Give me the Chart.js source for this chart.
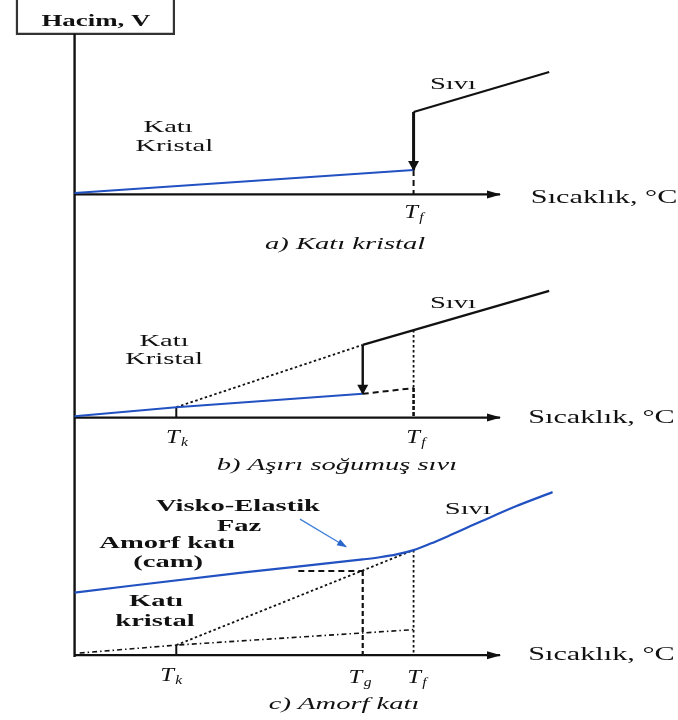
<!DOCTYPE html>
<html>
<head>
<meta charset="utf-8">
<script src="https://cdn.jsdelivr.net/npm/chart.js@4/dist/chart.umd.min.js"></script>
<style>
  html, body { margin: 0; padding: 0; background: #fff; }
  canvas { display: block; }
</style>
</head>
<body>
<canvas id="c" width="678" height="720"></canvas>
<script>
// Characteristic temperatures on the shared temperature axis
const T_K = 30, T_G = 85, T_F = 100, T_END = 140, AXIS_END = 125.5;
// Volume baseline of each stacked panel (a, b, c)
const panelBase = [128, 66, 0];

// (a) Katı kristal
const aSolidT = [0, T_F],         aSolidV = [0.4, 6.8];
const aLiquidT = [T_F, T_END],    aLiquidV = [22.9, 34.0];
const aDropV = [22.9, 6.8];

// (b) Aşırı soğumuş sıvı
const bSolidT = [0, T_K, T_G],    bSolidV = [0.4, 2.9, 6.6];
const bSuperT = [T_K, T_G],       bSuperV = [2.9, 20.2];
const bLiquidT = [T_G, T_END],    bLiquidV = [20.2, 35.2];
const bDropV = [20.2, 6.6];
const bCrystT = [T_G, T_F],       bCrystV = [6.6, 8.2];
const bTfUpperV = [24.3, 8.2];

// (c) Amorf katı
const cGlassT = [0, 50, 85, 90, 95, 100, 105, 110, 120, 130, 141];
const cGlassV = [17.4, 23.0, 26.6, 27.2, 28.0, 29.2, 31.0, 33.0, 37.2, 41.3, 45.3];
const cExtrapT = [T_K, T_F],      cExtrapV = [2.8, 29.2];
const cTgLevelT = [66, T_G],      cTgV = 23.4;
const cCrystT = [1.5, T_K, T_F],  cCrystV = [0.6, 2.8, 7.1];
const cTfV = 29.2;
const cPointerT = [66.5, 80.1],   cPointerV = [37.8, 30.1];

// Frame of the volume label and the volume axis
const boxT = [-17, -17, 29.3, 29.3], boxV = [182, 172.6, 172.6, 182];
const vAxisTop = 172.6;

const BLACK = '#111';
const BLUE = '#2251c2';
const SOLID = { borderColor: BLACK, borderWidth: 2.2 };
const DOTTED = { borderColor: BLACK, borderWidth: 1.8, borderDash: [2.5, 2.5] };
const DASHED = { borderColor: BLACK, borderWidth: 2, borderDash: [6, 4] };
const DASHDOT = { borderColor: BLACK, borderWidth: 1.6, borderDash: [5, 3, 1.5, 3] };

function pts(Ts, Vs, panel) {
  const base = panel == null ? 0 : panelBase[panel];
  return Ts.map((t, i) => ({ x: t, y: Vs[i] + base }));
}
function seg(data, style, extra) {
  return Object.assign({
    data, showLine: true, pointRadius: 0, fill: false, clip: false, tension: 0
  }, style, extra || {});
}
const AXIS_HEAD = { length: 13, width: 8, color: BLACK };
const DROP_HEAD = { length: 9, width: 11, color: BLACK };

const datasets = [];
// (c) glass / liquid curve first so it stays on top
datasets.push(seg(pts(cGlassT, cGlassV, 2), { borderColor: BLUE, borderWidth: 2.2 }, { cubicInterpolationMode: 'monotone' }));
datasets.push(seg(pts(cPointerT, cPointerV, 2), { borderColor: '#3d7fd9', borderWidth: 1.2 },
  { arrowHead: { length: 9, width: 7, color: '#2a66cc' } }));
datasets.push(seg(pts(aSolidT, aSolidV, 0), { borderColor: BLUE, borderWidth: 2 }));
datasets.push(seg(pts(bSolidT, bSolidV, 1), { borderColor: BLUE, borderWidth: 2 }));

// Axes
datasets.push(seg(pts([0, 0], [-0.5, vAxisTop]), { borderColor: BLACK, borderWidth: 2.4 }));
datasets.push(seg(pts(boxT, boxV), { borderColor: '#333', borderWidth: 2.2 }));
[0, 1, 2].forEach(p => {
  datasets.push(seg(pts([0, AXIS_END], [0, 0], p), SOLID, { arrowHead: AXIS_HEAD }));
});

// (a)
datasets.push(seg(pts(aLiquidT, aLiquidV, 0), SOLID));
datasets.push(seg(pts([T_F, T_F], aDropV, 0), { borderColor: BLACK, borderWidth: 3 }, { arrowHead: DROP_HEAD }));
datasets.push(seg(pts([T_F, T_F], [aSolidV[1], 0], 0), DASHED));

// (b)
datasets.push(seg(pts(bSuperT, bSuperV, 1), DOTTED));
datasets.push(seg(pts(bLiquidT, bLiquidV, 1), SOLID));
datasets.push(seg(pts([T_G, T_G], bDropV, 1), { borderColor: BLACK, borderWidth: 2.4 }, { arrowHead: DROP_HEAD }));
datasets.push(seg(pts(bCrystT, bCrystV, 1), DASHED));
datasets.push(seg(pts([T_F, T_F], bTfUpperV, 1), DOTTED));
datasets.push(seg(pts([T_F, T_F], [bCrystV[1], 0], 1), { borderColor: BLACK, borderWidth: 2.6, borderDash: [4, 2] }));
datasets.push(seg(pts([T_K, T_K], [0, bSolidV[1]], 1), { borderColor: BLACK, borderWidth: 2 }));

// (c)
datasets.push(seg(pts(cExtrapT, cExtrapV, 2), DOTTED));
datasets.push(seg(pts(cTgLevelT, [cTgV, cTgV], 2), DASHED));
datasets.push(seg(pts([T_G, T_G], [cTgV, 0], 2), { borderColor: BLACK, borderWidth: 2.2, borderDash: [5, 3] }));
datasets.push(seg(pts([T_F, T_F], [cTfV, 0], 2), DOTTED));
datasets.push(seg(pts(cCrystT, cCrystV, 2), DASHDOT));
datasets.push(seg(pts([T_K, T_K], [0, cExtrapV[0]], 2), { borderColor: BLACK, borderWidth: 2 }));

// Text annotations: x = temperature, v = volume within the panel
const TEXT_SX = 1.68;
const labels = [
  { p: null, x: 6.3, v: 175.9, text: 'Hacim, V', font: 'bold 16px "Liberation Serif"' },
  // (a)
  { p: 0, x: 27.6, v: 18.7, text: 'Katı' },
  { p: 0, x: 29.4, v: 13.4, text: 'Kristal' },
  { p: 0, x: 111.6, v: 30.4, text: 'Sıvı' },
  { p: 0, x: 100.1, v: -5.2, sym: 'f' },
  { p: 0, x: 134.6, v: -1.0, text: 'Sıcaklık, °C', align: 'left', font: '18px "Liberation Serif"' },
  { p: 0, x: 79.8, v: -13.8, text: 'a) Katı kristal', font: 'italic 17px "Liberation Serif"' },
  // (b)
  { p: 1, x: 26.4, v: 21.0, text: 'Katı' },
  { p: 1, x: 26.4, v: 16.0, text: 'Kristal' },
  { p: 1, x: 111.6, v: 31.8, text: 'Sıvı' },
  { p: 1, x: 30.2, v: -5.7, sym: 'k' },
  { p: 1, x: 100.7, v: -5.7, sym: 'f' },
  { p: 1, x: 133.8, v: -0.1, text: 'Sıcaklık, °C', align: 'left', font: '18px "Liberation Serif"' },
  { p: 1, x: 77.4, v: -13.2, text: 'b) Aşırı soğumuş sıvı', font: 'italic 17px "Liberation Serif"' },
  // (c)
  { p: 2, x: 48.2, v: 41.2, text: 'Visko-Elastik', font: 'bold 17px "Liberation Serif"' },
  { p: 2, x: 48.5, v: 35.6, text: 'Faz', font: 'bold 17px "Liberation Serif"' },
  { p: 2, x: 27.3, v: 30.9, text: 'Amorf katı', font: 'bold 17px "Liberation Serif"' },
  { p: 2, x: 27.6, v: 25.6, text: '(cam)', font: 'bold 17px "Liberation Serif"' },
  { p: 2, x: 24.0, v: 14.8, text: 'Katı', font: 'bold 17px "Liberation Serif"' },
  { p: 2, x: 23.7, v: 9.2, text: 'kristal', font: 'bold 17px "Liberation Serif"' },
  { p: 2, x: 116.0, v: 40.6, text: 'Sıvı' },
  { p: 2, x: 28.5, v: -5.8, sym: 'k' },
  { p: 2, x: 84.2, v: -6.3, sym: 'g' },
  { p: 2, x: 101.0, v: -6.3, sym: 'f' },
  { p: 2, x: 133.8, v: 0, text: 'Sıcaklık, °C', align: 'left', font: '18px "Liberation Serif"' },
  { p: 2, x: 79.5, v: -13.8, text: 'c) Amorf katı', font: 'italic 17px "Liberation Serif"' }
];

const arrowPlugin = {
  id: 'arrowHeads',
  afterDatasetsDraw(chart) {
    const ctx = chart.ctx;
    chart.data.datasets.forEach((ds, i) => {
      if (!ds.arrowHead) return;
      const el = chart.getDatasetMeta(i).data;
      const a = el[el.length - 2], b = el[el.length - 1];
      const ang = Math.atan2(b.y - a.y, b.x - a.x);
      const h = ds.arrowHead;
      ctx.save();
      ctx.translate(b.x, b.y);
      ctx.rotate(ang);
      ctx.beginPath();
      ctx.moveTo(1, 0);
      ctx.lineTo(-h.length, h.width / 2);
      ctx.lineTo(-h.length, -h.width / 2);
      ctx.closePath();
      ctx.fillStyle = h.color;
      ctx.fill();
      ctx.restore();
    });
  }
};

const textPlugin = {
  id: 'diagramText',
  afterDraw(chart) {
    const ctx = chart.ctx;
    const xs = chart.scales.x, ys = chart.scales.y;
    labels.forEach(l => {
      const base = l.p == null ? 0 : panelBase[l.p];
      const px = xs.getPixelForValue(l.x);
      const py = ys.getPixelForValue(l.v + base);
      ctx.save();
      ctx.fillStyle = BLACK;
      ctx.textBaseline = 'middle';
      if (l.sym) {
        const fT = 'italic 19px "Liberation Serif"', fS = 'italic 12px "Liberation Serif"';
        ctx.font = fT; const wT = ctx.measureText('T').width;
        ctx.font = fS; const wS = ctx.measureText(l.sym).width;
        const total = (wT + wS + 1) * 1.3;
        ctx.translate(px - total / 2, py);
        ctx.scale(1.3, 1);
        ctx.textAlign = 'left';
        ctx.font = fT; ctx.fillText('T', 0, 0);
        ctx.font = fS; ctx.fillText(l.sym, wT + 1, 5);
      } else {
        ctx.translate(px, py);
        ctx.scale(TEXT_SX, 1);
        ctx.font = l.font || '17px "Liberation Serif"';
        ctx.textAlign = l.align || 'center';
        ctx.fillText(l.text, 0, 0);
      }
      ctx.restore();
    });
  }
};

new Chart(document.getElementById('c'), {
  type: 'scatter',
  data: { datasets },
  options: {
    responsive: false,
    animation: false,
    events: [],
    layout: { padding: 0 },
    plugins: { legend: { display: false }, tooltip: { enabled: false } },
    scales: {
      x: { type: 'linear', min: -22, max: 178, display: false },
      y: { type: 'linear', min: -18, max: 182, display: false }
    }
  },
  plugins: [arrowPlugin, textPlugin]
});
</script>
</body>
</html>
